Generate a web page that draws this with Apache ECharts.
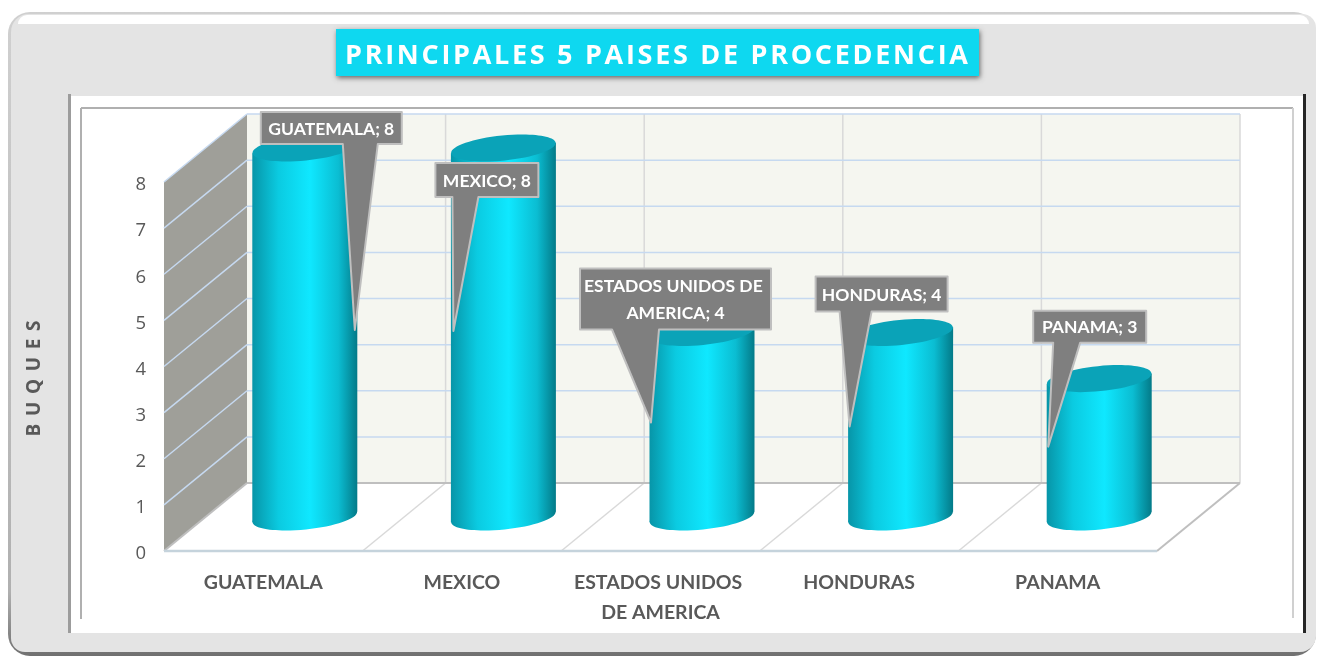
<!DOCTYPE html>
<html>
<head>
<meta charset="utf-8">
<title>Principales 5 paises de procedencia</title>
<style>
html, body { margin: 0; padding: 0; background: #fff; }
#main { width: 1317px; height: 658px; }
</style>
<script src="https://cdn.jsdelivr.net/npm/echarts@6/dist/echarts.min.js"></script>
</head>
<body>
<div id="main"></div>
<script>
// datos del grafico
let categories = ['GUATEMALA', 'MEXICO', 'ESTADOS UNIDOS DE AMERICA', 'HONDURAS', 'PANAMA']
let buques = [8, 8, 4, 4, 3]
let yTicks = [0, 1, 2, 3, 4, 5, 6, 7, 8]
let titleText = 'PRINCIPALES 5 PAISES DE PROCEDENCIA'
let yName = 'BUQUES'

// profundidad de la caja 3D
const depthX = 83
const depthY = 68
const rx = 52.5
const ry = 12.5
const tilt = 0.1

// globos de texto: caja, base de la cola y punta, relativos a la tapa del cilindro
let calloutLayout = [
    { box: [-44, -36, 97, -4], tail: [38, 73], tip: [50, 182] },
    { box: [-68, 15, 35, 49], tail: [-51, -25], tip: [-50, 183] },
    { box: [-122, -64, 69, -3], tail: [-90, -43], tip: [-51, 90] },
    { box: [-85, -56, 47, -21], tail: [-61, -29], tip: [-51, 94] },
    { box: [-66, -68, 47, -36], tail: [-46, -19], tip: [-51, 68] },
]

const spaced = (s, n) => s.split('').join('\u200a'.repeat(n))

let myChart = echarts.init(document.getElementById('main'))

function line(x1, y1, x2, y2, stroke, lineWidth) {
    return { type: 'line', shape: { x1, y1, x2, y2 }, style: { stroke, lineWidth } }
}

// paredes y piso
function renderBox(params, api) {
    let g = params.coordSys
    let x0 = g.x, x1 = g.x + g.width
    let y0 = api.coord([0, 0])[1]
    let y8 = api.coord([0, yTicks[yTicks.length - 1]])[1]
    let band = g.width / categories.length
    let kids = []
    kids.push({ type: 'polygon', shape: { points: [[x0, y0], [x0 + depthX, y0 - depthY], [x0 + depthX, y8 - depthY], [x0, y8]] }, style: { fill: '#9f9f99' } })
    kids.push({ type: 'rect', shape: { x: x0 + depthX, y: y8 - depthY, width: g.width, height: y0 - y8 }, style: { fill: '#f5f6f0' } })
    kids.push({ type: 'polygon', shape: { points: [[x0, y0], [x1, y0], [x1 + depthX, y0 - depthY], [x0 + depthX, y0 - depthY]] }, style: { fill: '#fff' } })
    for (let i = 1; i <= categories.length; i++) {
        let bx = x0 + band * i
        kids.push(line(bx + depthX, y8 - depthY, bx + depthX, y0 - depthY, '#d9d9d9', 1.5))
        if (i < categories.length) kids.push(line(bx, y0, bx + depthX, y0 - depthY, '#d9d9d9', 1.5))
    }
    yTicks.forEach(t => {
        if (t === 0) return
        let y = api.coord([0, t])[1]
        kids.push(line(x0, y, x0 + depthX, y - depthY, '#c6d9f0', 1.5))
        kids.push(line(x0 + depthX, y - depthY, x1 + depthX, y - depthY, '#c6d9f0', 1.5))
    })
    kids.push(line(x0 + depthX, y0 - depthY, x1 + depthX, y0 - depthY, '#bfbfbf', 2))
    kids.push(line(x1, y0, x1 + depthX, y0 - depthY, '#bfbfbf', 2))
    kids.push(line(x0, y0, x0 + depthX, y0 - depthY, '#bfbfbf', 2))
    kids.push(line(x0, y0, x1, y0, '#c5d3dc', 2.5))
    return { type: 'group', children: kids }
}

// cilindros
function renderCylinder(params, api) {
    let base = api.coord([api.value(0), 0])
    let top = api.coord([api.value(0), api.value(1)])
    let cx = base[0] + depthX / 2
    let by = base[1] - depthY / 2
    let ty = top[1] - depthY / 2
    let dy = rx * Math.sin(tilt)
    let sideFill = new echarts.graphic.LinearGradient(0, 0, 1, 0, [
        { offset: 0, color: '#0795a8' },
        { offset: 0.25, color: '#0bcbe1' },
        { offset: 0.55, color: '#0fe8ff' },
        { offset: 0.82, color: '#0bbdd2' },
        { offset: 1, color: '#037a88' },
    ])
    return {
        type: 'group',
        children: [
            { type: 'ellipse', shape: { cx, cy: by, rx, ry }, rotation: tilt, originX: cx, originY: by, style: { fill: sideFill } },
            { type: 'polygon', shape: { points: [[cx - rx, ty + dy], [cx + rx, ty - dy], [cx + rx, by - dy], [cx - rx, by + dy]] }, style: { fill: sideFill } },
            { type: 'ellipse', shape: { cx, cy: ty, rx, ry }, rotation: tilt, originX: cx, originY: ty, style: { fill: '#0aa3b8' } },
        ]
    }
}

// etiquetas con globo
function renderCallout(params, api) {
    let i = api.value(0)
    let top = api.coord([i, api.value(1)])
    let cx = top[0] + depthX / 2
    let ty = top[1] - depthY / 2
    let c = calloutLayout[i]
    let l = cx + c.box[0], r = cx + c.box[2], t = ty + c.box[1], b = ty + c.box[3]
    let pts = [[l, t], [r, t], [r, b], [cx + c.tail[1], b], [cx + c.tip[0], ty + c.tip[1]], [cx + c.tail[0], b], [l, b]]
    return {
        type: 'group',
        children: [
            { type: 'polygon', shape: { points: pts }, style: { fill: '#7f7f7f', stroke: '#bfbfbf', lineWidth: 2, lineJoin: 'round' } },
            {
                type: 'text',
                x: (l + r) / 2,
                y: (t + b) / 2 + 1,
                style: {
                    text: categories[i] + '; ' + buques[i],
                    width: r - l - 8,
                    overflow: 'break',
                    lineHeight: 27,
                    align: 'center',
                    verticalAlign: 'middle',
                    fill: '#fff',
                    font: 'bold 17.5px Lato',
                }
            },
        ]
    }
}

let option = {
    animation: false,
    backgroundColor: '#fff',
    title: {
        text: spaced(titleText, 1),
        left: 345,
        top: 43,
        padding: 0,
        textStyle: { color: '#fff', fontFamily: 'Open Sans', fontWeight: 'bold', fontSize: 27 },
    },
    grid: { left: 164, right: 160, top: 182, bottom: 107 },
    xAxis: {
        type: 'category',
        data: categories,
        axisLine: { show: false },
        axisTick: { show: false },
        axisLabel: {
            interval: 0,
            width: 180,
            overflow: 'break',
            margin: 17,
            lineHeight: 30,
            color: '#595959',
            fontFamily: 'Lato',
            fontWeight: 'bold',
            fontSize: 19.5,
        },
    },
    yAxis: {
        type: 'value',
        min: 0,
        max: 8,
        interval: 1,
        name: spaced(yName, 4),
        nameLocation: 'middle',
        nameGap: 120,
        nameRotate: 90,
        nameTextStyle: { color: '#595959', fontFamily: 'Open Sans', fontWeight: 'bold', fontSize: 19, padding: [0, 24, 0, 0] },
        axisLine: { show: false },
        axisTick: { show: false },
        splitLine: { show: false },
        axisLabel: {
            margin: 18,
            formatter: '{t|{value}}',
            rich: { t: { color: '#595959', fontFamily: 'Open Sans', fontSize: 18.5, padding: [6, 0, 0, 0] } },
        },
    },
    // marco del grafico
    graphic: { elements: [
        { type: 'rect', z: -10, shape: { x: 8, y: 12, width: 1308, height: 644, r: 22 }, style: { fill: new echarts.graphic.LinearGradient(0, 0, 0, 1, [{ offset: 0, color: '#d0d0d0' }, { offset: 0.9, color: '#b0b0b0' }, { offset: 1, color: '#707070' }]) } },
        { type: 'rect', z: -9, shape: { x: 11, y: 14, width: 1305, height: 638, r: [18, 14, 16, 14] }, style: { fill: '#e4e4e4' } },
        { type: 'rect', z: -8, shape: { x: 18, y: 15, width: 1291, height: 9, r: [9, 9, 0, 0] }, style: { fill: '#fff' } },
        { type: 'rect', z: -7, shape: { x: 69, y: 96, width: 1235, height: 537 }, style: { fill: '#fff' } },
        { type: 'rect', z: -6, shape: { x: 68, y: 94, width: 3, height: 539 }, style: { fill: '#9c9c9c' } },
        { type: 'rect', z: -6, shape: { x: 1303, y: 94, width: 3, height: 539 }, style: { fill: '#262626' } },
        { type: 'line', z: -6, shape: { x1: 81, y1: 108, x2: 1293, y2: 108 }, style: { stroke: '#b0b0b0', lineWidth: 2 } },
        { type: 'line', z: -6, shape: { x1: 81, y1: 108, x2: 81, y2: 619 }, style: { stroke: '#b0b0b0', lineWidth: 2 } },
        { type: 'line', z: -6, shape: { x1: 1293, y1: 108, x2: 1293, y2: 618 }, style: { stroke: '#d0d0d0', lineWidth: 2 } },
        { type: 'rect', z: -5, shape: { x: 336, y: 29, width: 643, height: 47 }, style: { fill: '#0ed8f0', shadowBlur: 5, shadowOffsetX: 1, shadowOffsetY: 2, shadowColor: 'rgba(0,0,0,0.55)' } },
    ] },
    series: [
        { type: 'custom', silent: true, z: 2, renderItem: renderBox, data: [[0, 0]], encode: { x: 0, y: 1 } },
        { type: 'custom', silent: true, z: 3, renderItem: renderCylinder, data: buques.map((v, i) => [i, v]), encode: { x: 0, y: 1 } },
        { type: 'custom', silent: true, z: 4, renderItem: renderCallout, data: buques.map((v, i) => [i, v]), encode: { x: 0, y: 1 } },
    ],
}

myChart.setOption(option)
</script>
</body>
</html>
